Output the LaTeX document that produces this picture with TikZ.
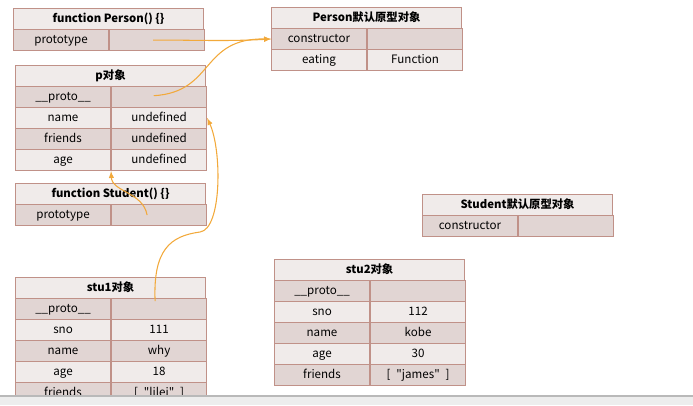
\documentclass[tikz,border=0pt]{standalone}
\usepackage{fontspec}
\setmainfont{Noto Sans CJK SC}[Ligatures=TeXOff]
\usetikzlibrary{arrows,positioning}
\tikzset{>=latex}
\definecolor{rowlight}{HTML}{F0EBEA}
\definecolor{rowdark}{HTML}{E1D5D3}
\definecolor{cellline}{HTML}{C09188}
\definecolor{linkorange}{HTML}{F2A93B}
\tikzset{
  cell/.style={draw=cellline, line width=0.8pt, inner sep=0pt, minimum height=15.75pt,
    text height=6.6pt, text depth=1.8pt, font=\fontsize{8.7}{10}\selectfont},
  head/.style={cell, fill=rowlight, minimum width=142.5pt, font=\fontsize{8.5}{10}\selectfont\bfseries},
  half/.style={cell, minimum width=71.25pt},
  link/.style={->, draw=linkorange, line width=0.8pt},
}

\begin{document}
\begin{tikzpicture}[x=0.75pt, y=-0.75pt]
    \useasboundingbox (0,0) rectangle (693,405);
    % function Person
    \node[head, anchor=north west] (person-h) at (13,8) {function Person() \{\}};
    \node[half, fill=rowdark, anchor=north west] (person-k1) at (13,29) {prototype};
    \node[half, fill=rowdark, right=0pt of person-k1] (person-v1) {};
    % Person prototype object
    \node[head, anchor=north west] (pproto-h) at (271,7) {Person默认原型对象};
    \foreach \k/\v [count=\i] in {constructor/{}, eating/Function} {
      \ifodd\i \def\rowcol{rowdark}\else \def\rowcol{rowlight}\fi
      \node[half, fill=\rowcol, anchor=north west] (pproto-k\i) at (271,{7+21*\i}) {\k};
      \node[half, fill=\rowcol, right=0pt of pproto-k\i] (pproto-v\i) {\v};
    }
    % p object
    \node[head, anchor=north west] (p-h) at (15,65) {p对象};
    \foreach \k/\v [count=\i] in {{\_\_proto\_\_}/{}, name/undefined, friends/undefined, age/undefined} {
      \ifodd\i \def\rowcol{rowdark}\else \def\rowcol{rowlight}\fi
      \node[half, fill=\rowcol, anchor=north west] (p-k\i) at (15,{65+21*\i}) {\k};
      \node[half, fill=\rowcol, right=0pt of p-k\i] (p-v\i) {\v};
    }
    % function Student
    \node[head, anchor=north west] (student-h) at (15,183) {function Student() \{\}};
    \node[half, fill=rowdark, anchor=north west] (student-k1) at (15,204) {prototype};
    \node[half, fill=rowdark, right=0pt of student-k1] (student-v1) {};
    % Student prototype object
    \node[head, anchor=north west] (sproto-h) at (422,194) {Student默认原型对象};
    \node[half, fill=rowdark, anchor=north west] (sproto-k1) at (422,215) {constructor};
    \node[half, fill=rowdark, right=0pt of sproto-k1] (sproto-v1) {};
    % stu1 object
    \node[head, anchor=north west] (stu1-h) at (15,277) {stu1对象};
    \foreach \k/\v [count=\i] in {{\_\_proto\_\_}/{}, sno/111, name/why, age/18, friends/{[\enspace"lilei"\enspace]}} {
      \ifodd\i \def\rowcol{rowdark}\else \def\rowcol{rowlight}\fi
      \node[half, fill=\rowcol, anchor=north west] (stu1-k\i) at (15,{277+21*\i}) {\k};
      \node[half, fill=\rowcol, right=0pt of stu1-k\i] (stu1-v\i) {\v};
    }
    % stu2 object
    \node[head, anchor=north west] (stu2-h) at (274,259) {stu2对象};
    \foreach \k/\v [count=\i] in {{\_\_proto\_\_}/{}, sno/112, name/kobe, age/30, friends/{[\enspace"james"\enspace]}} {
      \ifodd\i \def\rowcol{rowdark}\else \def\rowcol{rowlight}\fi
      \node[half, fill=\rowcol, anchor=north west] (stu2-k\i) at (274,{259+21*\i}) {\k};
      \node[half, fill=\rowcol, right=0pt of stu2-k\i] (stu2-v\i) {\v};
    }
    % links
    \draw[link] ([xshift=-3pt]person-v1.center) to[out=0, in=183] (pproto-k1.west);
    \draw[link] ([xshift=-4pt,yshift=1pt]p-v1.center) .. controls (215,92) and (200,38) .. (pproto-k1.west);
    \draw[link] ([xshift=-9pt]student-v1.center) .. controls (143,192) and (112,192) .. (p-k4.south east);
    \draw[link] ([shift={(-3pt,6pt)}]stu1-v1.center) .. controls (153,250) and (170,236) .. (200,232)
        .. controls (222,229) and (222,150) .. (p-v2.east);
    % bottom bar
    \fill[gray!14] (0,396) rectangle (693,405);
    \draw[gray!55, line width=0.8pt] (0,396) -- (693,396);
\end{tikzpicture}
\end{document}
